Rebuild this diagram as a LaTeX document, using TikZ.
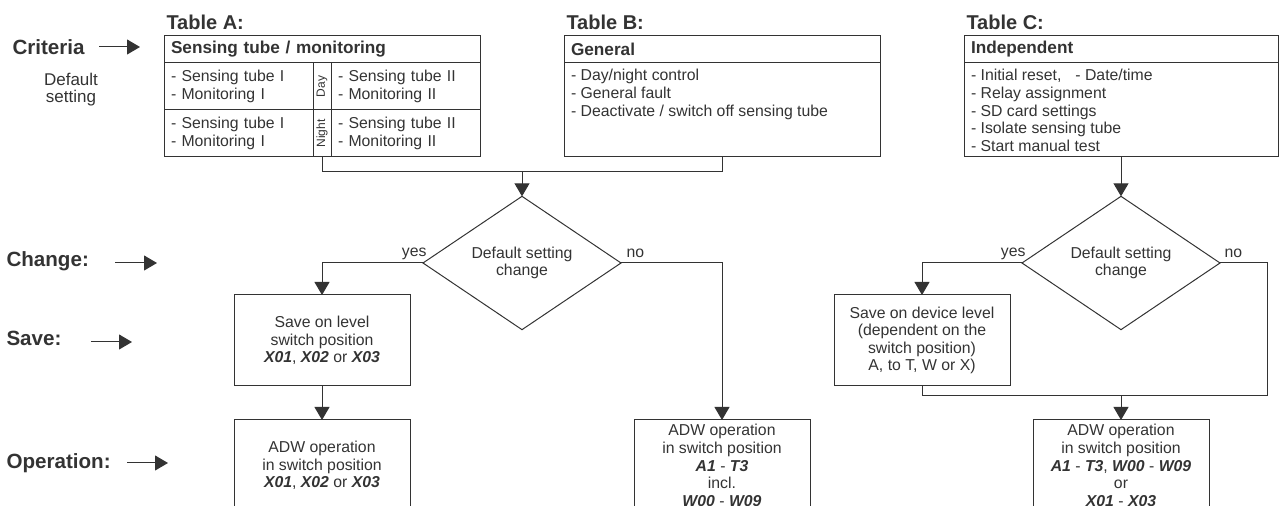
\documentclass[tikz,border=0pt]{standalone}
\usepackage{fontspec}
\setmainfont{Liberation Sans}
\usetikzlibrary{positioning,calc,shapes.geometric,arrows.meta}

\newcommand{\swpos}[1]{\textbf{\textit{#1}}}

\tikzset{
  arr/.style={-{Triangle[length=6.5pt,width=7.5pt]}},
  hd/.style={draw, outer sep=0, inner xsep=3.5pt, inner ysep=0, minimum height=13.5pt, text width=#1, align=left, font=\fontsize{8.6}{10}\selectfont\bfseries},
  cell/.style={draw, outer sep=0, inner xsep=3.5pt, inner ysep=0, minimum height=23.5pt, text width=67.5pt, align=left, font=\fontsize{7.9}{8.8}\selectfont},
  daycell/.style={draw, outer sep=0, inner sep=0, minimum width=9pt, minimum height=23.5pt, font=\fontsize{6}{6}\selectfont},
  body/.style={draw, outer sep=0, inner xsep=3.5pt, inner ysep=3pt, font=\fontsize{7.9}{8.9}\selectfont},
  box/.style={draw, outer sep=0, inner sep=0, minimum width=88pt, minimum height=45.5pt, align=center, font=\fontsize{7.9}{8.8}\selectfont},
  dia/.style={diamond, draw, outer sep=0, inner sep=0, minimum width=99pt, minimum height=58pt, align=center, font=\fontsize{7.9}{8.8}\selectfont},
  title/.style={anchor=base west, inner sep=0, font=\fontsize{10}{12}\selectfont\bfseries},
  side/.style={anchor=west, inner sep=0, font=\fontsize{10.3}{12}\selectfont\bfseries},
  lbl/.style={inner sep=0, font=\fontsize{7.9}{9}\selectfont}
}

\begin{document}
\begin{tikzpicture}[x=0.5pt, y=-0.5pt, line width=0.5pt, color=black!80]
  \useasboundingbox (0,0) rectangle (1287,506);
  \clip (0,0) rectangle (1287,506);

  % side labels
  \node[side] (crit) at (12,47) {Criteria};
  \coordinate (crit-to) at (140,47);
  \draw[arr, shorten <=7pt] (crit.east |- crit-to) -- (crit-to);
  \node[lbl, align=center, font=\fontsize{8.5}{8.5}\selectfont] (dflt) at (71,90) {Default\\setting};

  \node[side] (chg) at (6,261) {Change:};
  \coordinate (chg-to) at (157,263);
  \draw[arr, shorten <=13pt] (chg.east |- chg-to) -- (chg-to);

  \node[side] (sav) at (6,338) {Save:};
  \coordinate (sav-to) at (132,342);
  \draw[arr, shorten <=14.5pt] (sav.east |- sav-to) -- (sav-to);

  \node[side] (opr) at (6,463) {Operation:};
  \coordinate (opr-to) at (168,463);
  \draw[arr, shorten <=8pt] (opr.east |- opr-to) -- (opr-to);

  % table A
  \draw node[hd=151pt, anchor=north west] (a-hd) at (164,36) {Sensing tube / monitoring};
  \draw (a-hd.north west) node[title, xshift=1pt, yshift=3pt] (a-tt) {Table A:};
  \draw (a-hd.south west) node[cell, anchor=north west] (a-d1) {- Sensing tube I\\- Monitoring I};
  \draw (a-d1.north east) node[daycell, anchor=north west] (a-day) {\rotatebox{90}{Day}};
  \draw (a-day.north east) node[cell, anchor=north west] (a-d2) {- Sensing tube II\\- Monitoring II};
  \draw (a-d1.south west) node[cell, anchor=north west] (a-n1) {- Sensing tube I\\- Monitoring I};
  \draw (a-n1.north east) node[daycell, anchor=north west] (a-night) {\rotatebox{90}{Night}};
  \draw (a-night.north east) node[cell, anchor=north west] (a-n2) {- Sensing tube II\\- Monitoring II};

  % table B
  \draw node[hd=151pt, anchor=north west] (b-hd) at (564,36) {General};
  \draw (b-hd.north west) node[title, xshift=1pt, yshift=3pt] (b-tt) {Table B:};
  \draw (b-hd.south west) node[body, anchor=north west] (b-bd) {\parbox[t][41pt][t]{151pt}{- Day/night control\\- General fault\\- Deactivate / switch off sensing tube}};

  % table C
  \draw node[hd=150pt, anchor=north west] (c-hd) at (964,36) {Independent};
  \draw (c-hd.north west) node[title, xshift=1pt, yshift=3pt] (c-tt) {Table C:};
  \draw (c-hd.south west) node[body, anchor=north west] (c-bd) {\parbox[t][41pt][t]{150pt}{- Initial reset,\hspace{7pt}- Date/time\\- Relay assignment\\- SD card settings\\- Isolate sensing tube\\- Start manual test}};

  % left flow
  \draw (a-night.south) -- ++(0,15) coordinate (j-a) -| (b-bd.south);
  \coordinate (j-ab) at ($(j-a)!.5!(j-a -| b-bd.south)$);
  \node[dia] (dia-l) at ($(j-ab)+(0,91)$) {Default setting\\change};
  \draw[arr] (j-ab) -- (dia-l.north);

  \node[box, anchor=north] (sv-l) at (a-night.south |- 0,295) {Save on level\\switch position\\\swpos{X01}, \swpos{X02} or \swpos{X03}};
  \node[box, anchor=north] (op-l) at ($(sv-l.south)+(0,34)$) {ADW operation\\in switch position\\\swpos{X01}, \swpos{X02} or \swpos{X03}};
  \node[box, anchor=north] (op-b) at (b-bd.south |- op-l.north) {ADW operation\\in switch position\\\swpos{A1} - \swpos{T3}\\incl.\\\swpos{W00} - \swpos{W09}};

  \draw[arr] (dia-l.west) -| (sv-l.north);
  \draw[arr] (sv-l.south) -- (op-l.north);
  \draw[arr] (dia-l.east) -| (op-b.north);
  \node[lbl, anchor=base east] (yes-l) at ($(dia-l.west)+(4,-6)$) {yes};
  \node[lbl, anchor=base west] (no-l) at ($(dia-l.east)+(5,-5)$) {no};

  % right flow
  \node[dia] (dia-r) at (c-bd.south |- dia-l.center) {Default setting\\change};
  \draw[arr] (c-bd.south) -- (dia-r.north);

  \node[box, anchor=north] (sv-r) at (922,295) {Save on device level\\(dependent on the\\switch position)\\A, to T, W or X)};
  \node[box, anchor=north] (op-c) at (c-bd.south |- op-l.north) {ADW operation\\in switch position\\\swpos{A1} - \swpos{T3}, \swpos{W00} - \swpos{W09}\\or\\\swpos{X01} - \swpos{X03}};

  \draw[arr] (dia-r.west) -| (sv-r.north);
  \coordinate (j-c) at ($(sv-r.south)+(0,10)$);
  \draw (dia-r.east) -- ++(47,0) |- (j-c) -- (sv-r.south);
  \draw[arr] (op-c.north |- j-c) -- (op-c.north);
  \node[lbl, anchor=base east] (yes-r) at ($(dia-r.west)+(4,-6)$) {yes};
  \node[lbl, anchor=base west] (no-r) at ($(dia-r.east)+(4,-5)$) {no};
\end{tikzpicture}
\end{document}
